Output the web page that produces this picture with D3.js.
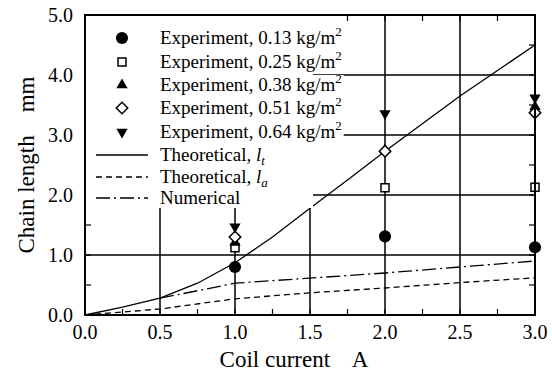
<!DOCTYPE html>
<html>
<head>
<meta charset="utf-8">
<script src="https://cdn.jsdelivr.net/npm/d3@7"></script>
<style>
  body { margin: 0; background: #fff; }
</style>
</head>
<body>
<div id="canvas"></div>
<script>
// --- data
var currents = [1.0, 2.0, 3.0];
var exp013 = [0.80, 1.31, 1.13];
var exp025 = [1.12, 2.12, 2.13];
var exp038 = [1.21, 2.75, 3.47];
var exp051 = [1.30, 2.73, 3.37];
var exp064 = [1.47, 3.36, 3.62];

var theoX = [0, 0.25, 0.5, 0.75, 1.0, 1.25, 1.5, 1.75, 2.0, 2.5, 3.0];
var theoLt = [0, 0.13, 0.28, 0.53, 0.87, 1.30, 1.78, 2.25, 2.73, 3.65, 4.50];
var laX = [0, 0.5, 1.0, 1.5, 2.0, 2.5, 3.0];
var theoLa = [0, 0.10, 0.27, 0.37, 0.45, 0.54, 0.62];
var numX = [0.5, 1.0, 2.0, 3.0];
var numer = [0.28, 0.53, 0.70, 0.90];

var xTicks = [0, 0.5, 1.0, 1.5, 2.0, 2.5, 3.0];
var yTicks = [0, 1, 2, 3, 4, 5];

// --- margin convention
var M = {top: 15, right: 17, bottom: 64, left: 85};
var outerWidth = 552, outerHeight = 379;
var w = outerWidth - M.left - M.right,
    h = outerHeight - M.top - M.bottom;
var FONT = '"Liberation Serif", "Times New Roman", serif';

var svg = d3.select('#canvas').append('svg')
    .attr('width', outerWidth)
    .attr('height', outerHeight)
    .attr('font-family', FONT);
var plot = svg.append('g')
    .attr('transform', 'translate(' + M.left + ',' + M.top + ')');

var x = d3.scaleLinear().domain([0, 3]).range([0, w]);
var y = d3.scaleLinear().domain([0, 5]).range([h, 0]);

// grid lines
plot.selectAll('.vgrid').data(xTicks.slice(1, -1)).enter().append('line')
    .attr('x1', d => x(d)).attr('x2', d => x(d))
    .attr('y1', 0).attr('y2', h)
    .style('stroke', '#000').style('stroke-width', 1.5);
plot.selectAll('.hgrid').data(yTicks.slice(1, -1)).enter().append('line')
    .attr('x1', 0).attr('x2', w)
    .attr('y1', d => y(d)).attr('y2', d => y(d))
    .style('stroke', '#000').style('stroke-width', 1.5);

// minor ticks (inward, all four sides)
var xMinor = d3.range(0.25, 3, 0.25);
var yMinor = d3.range(0.5, 5, 0.5);
var tk = 6;
xMinor.forEach(function(d) {
  plot.append('line').attr('x1', x(d)).attr('x2', x(d)).attr('y1', h).attr('y2', h - tk)
    .style('stroke', '#000').style('stroke-width', 1.2);
  plot.append('line').attr('x1', x(d)).attr('x2', x(d)).attr('y1', 0).attr('y2', tk)
    .style('stroke', '#000').style('stroke-width', 1.2);
});
yMinor.forEach(function(d) {
  plot.append('line').attr('x1', 0).attr('x2', tk).attr('y1', y(d)).attr('y2', y(d))
    .style('stroke', '#000').style('stroke-width', 1.2);
  plot.append('line').attr('x1', w).attr('x2', w - tk).attr('y1', y(d)).attr('y2', y(d))
    .style('stroke', '#000').style('stroke-width', 1.2);
});

// curves
var line = d3.line().x(d => x(d[0])).y(d => y(d[1]));
plot.append('path').datum(d3.zip(theoX, theoLt)).attr('d', line)
    .style('fill', 'none').style('stroke', '#000').style('stroke-width', 1.3);
plot.append('path').datum(d3.zip(laX, theoLa)).attr('d', line)
    .style('fill', 'none').style('stroke', '#000').style('stroke-width', 1.3)
    .style('stroke-dasharray', '6,4');
plot.append('path').datum(d3.zip(numX, numer)).attr('d', line)
    .style('fill', 'none').style('stroke', '#000').style('stroke-width', 1.3)
    .style('stroke-dasharray', '14,4,2,4');

// legend background (white, hides grid)
var legend = plot.append('g');
legend.append('rect').attr('x', 1).attr('y', 1).attr('width', 227).attr('height', 192)
    .style('fill', '#fff');

// markers
var sym = {
  circle: d3.symbol().type(d3.symbolCircle).size(115),
  square: d3.symbol().type(d3.symbolSquare).size(64),
  tri: d3.symbol().type(d3.symbolTriangle).size(55),
  diamond: d3.symbol().type(d3.symbolSquare).size(66)
};
function marker(g, kind, cx, cy) {
  var p = g.append('path').attr('transform', 'translate(' + cx + ',' + cy + ')');
  if (kind === 'circle') p.attr('d', sym.circle()).style('fill', '#000');
  if (kind === 'square') p.attr('d', sym.square()).style('fill', '#fff').style('stroke', '#000').style('stroke-width', 1.5);
  if (kind === 'up') p.attr('d', sym.tri()).style('fill', '#000');
  if (kind === 'down') p.attr('d', sym.tri()).style('fill', '#000')
      .attr('transform', 'translate(' + cx + ',' + cy + ') rotate(180)');
  if (kind === 'diamond') p.attr('d', sym.diamond()).style('fill', '#fff').style('stroke', '#000').style('stroke-width', 1.5)
      .attr('transform', 'translate(' + cx + ',' + cy + ') rotate(45)');
}

var series = [
  {kind: 'circle', vals: exp013},
  {kind: 'square', vals: exp025},
  {kind: 'up', vals: exp038},
  {kind: 'diamond', vals: exp051},
  {kind: 'down', vals: exp064}
];
series.forEach(function(s) {
  s.vals.forEach(function(v, i) { marker(plot, s.kind, x(currents[i]), y(v)); });
});

// legend entries
var rowY = [23, 47, 70, 93, 117, 140, 162, 183];
var mass = ['0.13', '0.25', '0.38', '0.51', '0.64'];
var kinds = ['circle', 'square', 'up', 'diamond', 'down'];
var textX = 75;
kinds.forEach(function(k, i) {
  marker(legend, k, 37, rowY[i]);
  var t = legend.append('text').attr('x', textX).attr('y', rowY[i] + 6).style('font-size', '19px');
  t.append('tspan').text('Experiment, ' + mass[i] + ' kg/m');
  t.append('tspan').attr('dy', -8).style('font-size', '13px').text('2');
  var bb = t.node().getBBox();
  legend.insert('rect', 'text').attr('x', bb.x).attr('y', rowY[i] - 10).attr('width', bb.width + 2).attr('height', 21)
    .style('fill', '#fff');
});
var lineStyles = ['none', '6,4', '14,4,2,4'];
var lineLabels = [['Theoretical, ', 't'], ['Theoretical, ', 'a'], ['Numerical', null]];
lineLabels.forEach(function(lb, j) {
  var yy = rowY[5 + j];
  legend.append('line').attr('x1', 11).attr('x2', 63).attr('y1', yy).attr('y2', yy)
    .style('stroke', '#000').style('stroke-width', 1.3).style('stroke-dasharray', lineStyles[j]);
  var t = legend.append('text').attr('x', textX).attr('y', yy + 6).style('font-size', '19px');
  t.append('tspan').text(lb[0]);
  if (lb[1]) {
    t.append('tspan').style('font-style', 'italic').text('l');
    t.append('tspan').attr('dy', 4).style('font-style', 'italic').style('font-size', '13px').text(lb[1]);
  }
});

// frame
plot.append('rect').attr('x', 0).attr('y', 0).attr('width', w).attr('height', h)
    .style('fill', 'none').style('stroke', '#000').style('stroke-width', 2);

// tick labels
plot.selectAll('.xl').data(xTicks).enter().append('text')
    .attr('x', d => x(d)).attr('y', h + 24)
    .attr('text-anchor', 'middle').style('font-size', '20px')
    .text(d => d3.format('.1f')(d));
plot.selectAll('.yl').data(yTicks).enter().append('text')
    .attr('x', -12).attr('y', d => y(d) + 7)
    .attr('text-anchor', 'end').style('font-size', '20px')
    .text(d => d3.format('.1f')(d));

// axis titles
svg.append('text').attr('x', 294).attr('y', 367)
    .attr('text-anchor', 'middle').style('font-size', '23px').style('white-space', 'pre')
    .text('Coil current    A');
svg.append('text').attr('transform', 'translate(34,' + (M.top + h / 2) + ') rotate(-90)')
    .attr('text-anchor', 'middle').style('font-size', '23px').style('white-space', 'pre')
    .text('Chain length    mm');
</script>
</body>
</html>
